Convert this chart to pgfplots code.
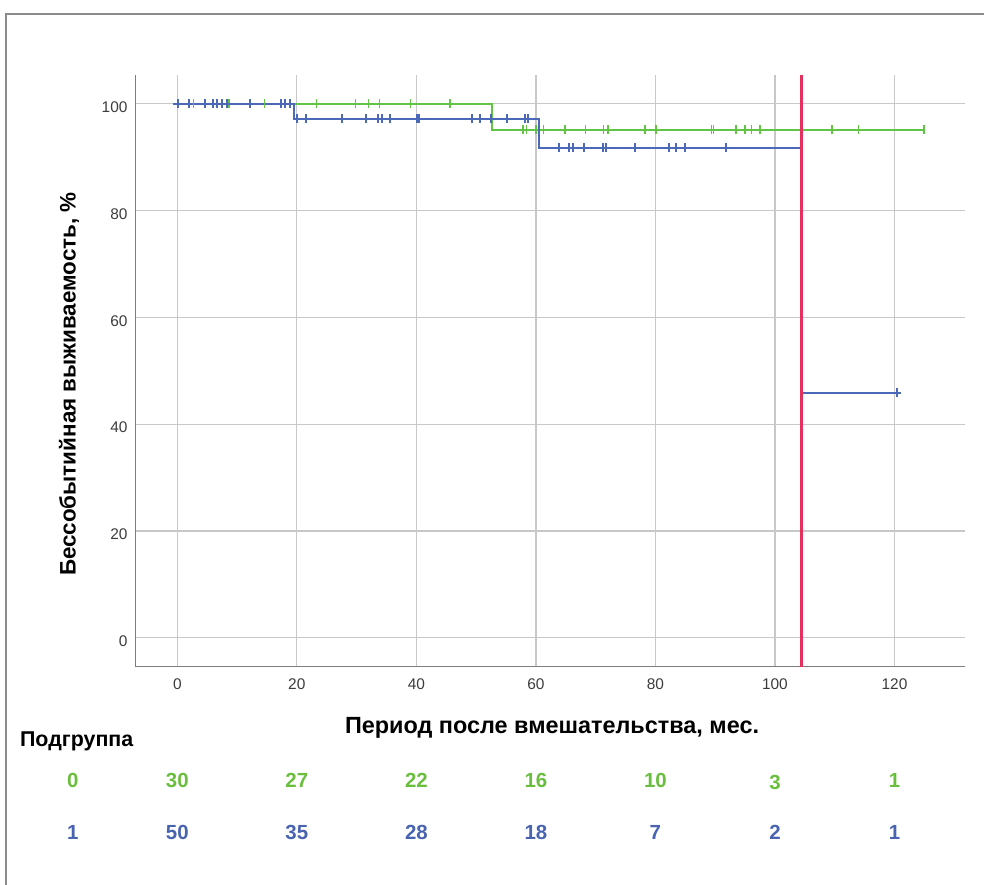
\documentclass[border=0pt]{standalone}
\usepackage{fontspec}
\setmainfont{Liberation Sans}
\usepackage{pgfplots}
\pgfplotsset{compat=1.18}
\definecolor{kmgreen}{RGB}{98,196,68}
\definecolor{kmblue}{RGB}{76,104,184}
\definecolor{refred}{RGB}{228,48,92}
\definecolor{gridgray}{RGB}{200,200,200}
\definecolor{axgray}{RGB}{125,125,125}
\definecolor{tickgray}{RGB}{60,60,60}
\definecolor{framegray}{RGB}{140,140,140}
\definecolor{txtgreen}{RGB}{106,190,62}
\definecolor{txtblue}{RGB}{72,100,176}
\begin{document}
\begin{tikzpicture}[x=1bp,y=1bp]
\path[use as bounding box] (-135.7,-218.3) rectangle (848.3,666.7);
\begin{axis}[
 scale only axis, width=829.3bp, height=591.7bp,
 xmin=-6.96, xmax=131.8, ymin=-5.43, ymax=105.4,
 axis lines*=left,
 axis line style={axgray, line width=1.5bp},
 xtick={0,20,...,120}, ytick={0,20,...,100},
 major tick length=0pt,
 grid=major, major grid style={gridgray, line width=1.3bp},
 clip=false,
 /pgf/number format/assume math mode=true,
 tick label style={font=\fontsize{15.5}{18}\selectfont, text=tickgray, inner sep=0pt},
 xticklabel style={anchor=north, yshift=-12.3bp},
 yticklabel style={anchor=east, xshift=-8bp, yshift=-3.5bp},
]
% Kaplan-Meier curves
\addplot[const plot, draw=kmgreen, mark=none, line width=1.9bp] coordinates {(0,100) (52.7,95.1) (124.9,95.1)};
\addplot[const plot, draw=kmblue, mark=none, line width=2bp] coordinates {(0,100) (19.5,97.2) (60.5,91.8) (104.45,45.9) (120.4,45.9)};
% censored (green)
\addplot[only marks, mark=|, mark size=4.5bp, mark options={draw=kmgreen, line width=1.6bp}] coordinates {
 (2.7,100) (8.7,100) (14.6,100) (23.3,100) (29.8,100) (32,100) (33.8,100) (39,100) (45.6,100)
 (57.8,95.1) (58.4,95.1) (60,95.1) (61.3,95.1) (64.9,95.1) (68.3,95.1) (71.3,95.1) (72.1,95.1)
 (78.3,95.1) (80.1,95.1) (89.4,95.1) (89.7,95.1) (93.5,95.1) (95,95.1) (96.1,95.1) (97.5,95.1)
 (109.5,95.1) (114,95.1) (124.9,95.1)};
% censored (blue)
\addplot[only marks, mark=+, mark size=4.5bp, mark options={draw=kmblue, line width=1.9bp}] coordinates {
 (0.1,100) (1.9,100) (4.6,100) (5.9,100) (6.7,100) (7.5,100) (8.3,100) (12.1,100) (17.3,100) (18,100) (18.8,100)
 (20.1,97.2) (21.6,97.2) (27.6,97.2) (31.5,97.2) (33.6,97.2) (34.3,97.2) (35.6,97.2) (40.1,97.2) (40.5,97.2)
 (49.3,97.2) (50.7,97.2) (52.5,97.2) (55.2,97.2) (58.2,97.2) (58.7,97.2)
 (63.9,91.8) (65.6,91.8) (66.2,91.8) (68.1,91.8) (71.3,91.8) (71.7,91.8) (76.6,91.8) (82.3,91.8) (83.4,91.8) (84.9,91.8) (91.8,91.8)
 (120.4,45.9)};
% reference line
\addplot[draw=refred, mark=none, line width=2.2bp] coordinates {(104.45,-5.43) (104.45,105.4)};
% labels
\node[font=\bfseries\fontsize{23.5}{26}\selectfont] at (axis cs:62.7,-16.9) {Период после вмешательства, мес.};
\node[rotate=90, font=\bfseries\fontsize{22.5}{26}\selectfont] at (axis cs:-18.1,47.5) {Бессобытийная выживаемость, \%};
\node[anchor=west, font=\bfseries\fontsize{21.5}{24}\selectfont] at (axis cs:-26.9,-19.5) {Подгруппа};
% numbers at risk
\begin{scope}[every node/.style={font=\bfseries\fontsize{20.5}{23}\selectfont, text=txtgreen}]
\node at (axis cs:-17.5,-26.7) {0};
\node at (axis cs:0,-26.7) {30};
\node at (axis cs:20,-26.7) {27};
\node at (axis cs:40,-26.7) {22};
\node at (axis cs:60,-26.7) {16};
\node at (axis cs:80,-26.7) {10};
\node at (axis cs:100,-27.2) {3};
\node at (axis cs:120,-26.7) {1};
\end{scope}
\begin{scope}[every node/.style={font=\bfseries\fontsize{20.5}{23}\selectfont, text=txtblue}]
\node at (axis cs:-17.5,-36.5) {1};
\node at (axis cs:0,-36.5) {50};
\node at (axis cs:20,-36.5) {35};
\node at (axis cs:40,-36.5) {28};
\node at (axis cs:60,-36.5) {18};
\node at (axis cs:80,-36.5) {7};
\node at (axis cs:100,-36.5) {2};
\node at (axis cs:120,-36.5) {1};
\end{scope}
\end{axis}
\draw[framegray, line width=1.2bp] (-129.7,-218.3) -- (-129.7,652.7) -- (848.3,652.7);
\end{tikzpicture}
\end{document}
